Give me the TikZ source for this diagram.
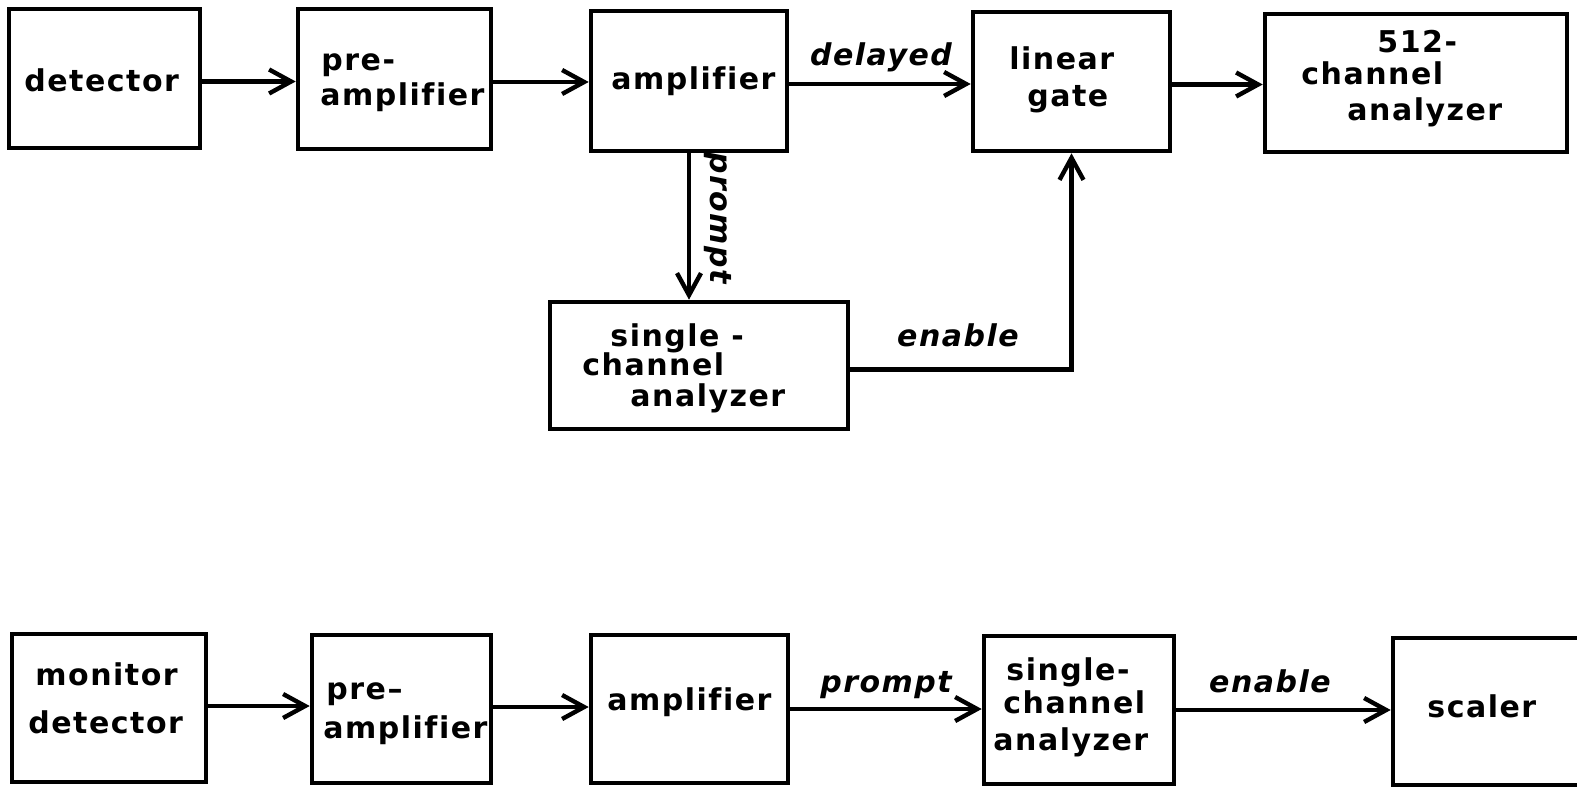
\documentclass[tikz,border=0pt]{standalone}
\usepackage{fontspec}
\newfontfamily\dfont{DejaVu Sans}[LetterSpace=5,Ligatures=NoCommon]
\usetikzlibrary{arrows.meta,fit}
\begin{document}
\begin{tikzpicture}[x=0.5pt,y=-0.5pt,
  box/.style={draw,line width=2.3pt,inner sep=0pt,rectangle},
  txt/.style={inner sep=0pt,anchor=base west,font=\dfont\bfseries\fontsize{15}{18}\selectfont},
  lab/.style={inner sep=0pt,anchor=base,font=\dfont\bfseries\itshape\fontsize{15}{18}\selectfont},
  arr/.style={line width=2.2pt,-{Straight Barb[length=11pt,width=12pt]}},
  dn/.style={yshift=-1.5pt}]
\useasboundingbox (0,0) rectangle (1577,791);
% top row boxes
\node[box,fit={(9,9) (200,148)}] (det) {};
\node[box,fit={(298,9) (491,149)}] (pre) {};
\node[box,fit={(591,11) (787,151)}] (amp) {};
\node[box,fit={(973,12) (1170,151)}] (lg) {};
\node[box,fit={(1265,14) (1567,152)}] (mca) {};
\node[box,fit={(550,302) (848,429)}] (sca) {};
% bottom row boxes
\node[box,fit={(12,634) (206,782)}] (mon) {};
\node[box,fit={(312,635) (491,783)}] (preb) {};
\node[box,fit={(591,635) (788,783)}] (ampb) {};
\node[box,fit={(984,636) (1174,784)}] (scab) {};
\node[box,fit={(1393,638) (1640,785)}] (scl) {};
% texts top
\node[txt] (detT) at (24,92) {detector};
\node[txt] (preT1) at (321,71) {pre-};
\node[txt] (preT2) at (320,106) {amplifier};
\node[txt] (ampT) at (611,90) {amplifier};
\node[txt] (lgT1) at (1009,70) {linear};
\node[txt] (lgT2) at (1027,107) {gate};
\node[txt] (mcaT1) at (1377,53) {512-};
\node[txt] (mcaT2) at (1301,85) {channel};
\node[txt] (mcaT3) at (1347,121) {analyzer};
\node[txt] (scaT1) at (610,346) {single -};
\node[txt] (scaT2) at (582,375) {channel};
\node[txt] (scaT3) at (630,406) {analyzer};
% texts bottom
\node[txt] (monT1) at (35,685) {monitor};
\node[txt] (monT2) at (28,733) {detector};
\node[txt] (prebT1) at (326,699) {pre–};
\node[txt] (prebT2) at (323,738) {amplifier};
\node[txt] (ampbT) at (607,710) {amplifier};
\node[txt] (scabT1) at (1006,680) {single-};
\node[txt] (scabT2) at (1003,713) {channel};
\node[txt] (scabT3) at (993,750) {analyzer};
\node[txt] (sclT) at (1427,717) {scaler};
% connector labels
\node[lab] (lDel) at (881,66) {delayed};
\node[lab,rotate=-90] (lPr) at (710,218) {prompt};
\node[lab] (lEn) at (958,346) {enable};
\node[lab] (lPrb) at (886,692) {prompt};
\node[lab] (lEnb) at (1270,692) {enable};
% connectors top
\draw[arr] ([dn]det.east) -- ([dn]det.east -| pre.west);
\draw[arr] ([dn]pre.east) -- ([dn]pre.east -| amp.west);
\draw[arr] ([dn]amp.east) -- ([dn]amp.east -| lg.west);
\draw[arr] ([dn]lg.east) -- ([dn]lg.east -| mca.west);
\draw[arr] (amp.south) -- (amp.south |- sca.north);
\draw[arr] ([yshift=-2pt]sca.east) -| (lg.south);
% connectors bottom
\draw[arr] ([yshift=1pt]mon.east) -- ([yshift=1pt]mon.east -| preb.west);
\draw[arr] ([yshift=1pt]preb.east) -- ([yshift=1pt]preb.east -| ampb.west);
\draw[arr] (ampb.east) -- (ampb.east -| scab.west);
\draw[arr] (scab.east) -- (scab.east -| scl.west);
\end{tikzpicture}
\end{document}
